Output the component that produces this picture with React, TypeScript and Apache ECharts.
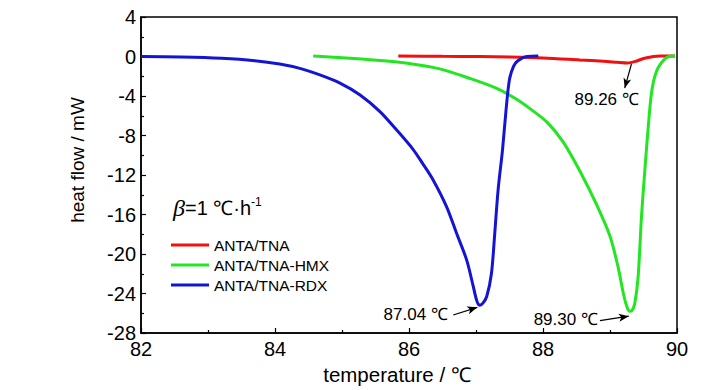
import React, { useEffect, useRef } from 'react';
import * as echarts from 'echarts';

// [temperature °C, heat flow mW]
const antaTna: [number, number][] = [
  [85.84, 0.05], [86.5, 0.02], [87.06, 0.0], [87.5, -0.05], [88.0, -0.15],
  [88.55, -0.35], [88.9, -0.48], [89.1, -0.58], [89.26, -0.66], [89.4, -0.45],
  [89.5, -0.2], [89.65, 0.0], [89.75, 0.05], [89.97, 0.05],
];

const antaTnaHmx: [number, number][] = [
  [84.57, 0.05], [85.0, -0.12], [85.57, -0.4], [86.0, -0.7], [86.46, -1.25],
  [86.9, -2.2], [87.3, -3.2], [87.6, -4.3], [87.81, -5.3], [88.06, -6.65],
  [88.3, -8.65], [88.55, -11.6], [88.8, -15.0], [89.0, -18.2], [89.12, -21.3],
  [89.2, -24.0], [89.25, -25.3], [89.29, -25.8], [89.33, -25.7], [89.37, -25.0],
  [89.42, -22.3], [89.47, -16.2], [89.52, -11.5], [89.57, -7.2], [89.61, -4.2],
  [89.65, -2.5], [89.7, -1.4], [89.75, -0.8], [89.82, -0.25], [89.88, 0.0],
  [89.97, 0.05],
];

const antaTnaRdx: [number, number][] = [
  [82.0, 0], [82.6, -0.05], [83.2, -0.18], [83.7, -0.42], [84.07, -0.76],
  [84.37, -1.2], [84.67, -1.87], [84.97, -2.7], [85.27, -3.9], [85.57, -5.6],
  [85.81, -7.4], [86.06, -9.4], [86.2, -10.8], [86.36, -12.5], [86.56, -15.2],
  [86.71, -17.9], [86.86, -20.6], [86.96, -23.3], [87.01, -24.7], [87.05, -25.2],
  [87.1, -25.0], [87.16, -24.3], [87.23, -22.0], [87.28, -17.9], [87.33, -13.5],
  [87.395, -9.5], [87.45, -5.3], [87.5, -2.3], [87.56, -1.0], [87.62, -0.45],
  [87.76, 0.0], [87.93, 0.05],
];

const seriesNames = ['ANTA/TNA', 'ANTA/TNA-HMX', 'ANTA/TNA-RDX'];
const seriesColors = ['#f01010', '#22e622', '#1414d4'];

// peak annotations (data coordinates): label position, arrow start, arrow end
const rdxPeak = { text: '87.04 ℃', at: [86.1, -26.1], from: [86.66, -26.18], to: [87.02, -25.4] };
const hmxPeak = { text: '89.30 ℃', at: [88.34, -26.68], from: [88.85, -26.75], to: [89.28, -26.3] };
const tnaPeak = { text: '89.26 ℃', at: [88.95, -4.4], from: [89.32, -0.76], to: [89.22, -3.2] };

const FONT = '"Liberation Sans", Arial, sans-serif';

function annot(p: { text: string; at: number[]; from: number[]; to: number[] }) {
  return {
    markLine: {
      silent: true,
      symbol: ['none', 'arrow'],
      symbolSize: [6, 10],
      label: { show: false },
      lineStyle: { color: '#000', width: 1.2, type: 'solid' },
      emphasis: { disabled: true },
      data: [[{ coord: p.from }, { coord: p.to }]],
    },
    markPoint: {
      silent: true,
      symbol: 'rect',
      symbolSize: 1,
      itemStyle: { color: 'rgba(0,0,0,0)' },
      label: {
        show: true,
        position: 'inside',
        formatter: p.text,
        color: '#000',
        fontSize: 17,
        fontFamily: FONT,
      },
      data: [{ coord: p.at }],
    },
  };
}

export default function App() {
  const ref = useRef<HTMLDivElement>(null);
  useEffect(() => {
    if (!ref.current) return;
    const chart = echarts.init(ref.current, undefined, { renderer: 'svg' });
    const datasets = [antaTna, antaTnaHmx, antaTnaRdx];
    const peaks = [tnaPeak, hmxPeak, rdxPeak];
    chart.setOption({
      animation: false,
      backgroundColor: '#fff',
      title: {
        left: 168,
        top: 191,
        text: '{b|β}{t|=1 ℃·h}{s|-1}',
        textStyle: {
          fontWeight: 'normal',
          rich: {
            b: { fontFamily: '"Liberation Serif", serif', fontStyle: 'italic', fontWeight: 'normal', fontSize: 24, color: '#000' },
            t: { fontFamily: FONT, fontWeight: 'normal', fontSize: 20, color: '#000' },
            s: { fontFamily: FONT, fontWeight: 'normal', fontSize: 12, color: '#000', verticalAlign: 'top' },
          },
        },
      },
      legend: {
        left: 166,
        top: 232,
        orient: 'vertical',
        icon: 'rect',
        itemWidth: 38,
        itemHeight: 3,
        itemGap: 4,
        data: seriesNames,
        textStyle: { color: '#000', fontSize: 15.5, fontFamily: FONT, lineHeight: 15 },
      },
      grid: {
        left: 141,
        right: 51,
        top: 17,
        bottom: 57,
        show: true,
        borderColor: '#000',
        borderWidth: 1.5,
      },
      xAxis: {
        type: 'value',
        min: 82,
        max: 90,
        interval: 2,
        name: 'temperature / ℃',
        nameLocation: 'middle',
        nameGap: 28,
        nameTextStyle: { color: '#000', fontSize: 20.5, fontFamily: FONT, padding: [0, 24, 0, 0] },
        axisLine: { show: true, onZero: false, lineStyle: { color: '#000', width: 1.5 } },
        axisTick: { show: true, inside: true, length: 5, lineStyle: { color: '#000', width: 1.2 } },
        minorTick: { show: true, splitNumber: 2, length: 3, lineStyle: { color: '#000', width: 1.2 } },
        splitLine: { show: false },
        axisLabel: { color: '#000', fontSize: 20, fontFamily: FONT, margin: 6 },
      },
      yAxis: {
        type: 'value',
        min: -28,
        max: 4,
        interval: 4,
        name: 'heat flow / mW',
        nameLocation: 'middle',
        nameGap: 54,
        nameRotate: 90,
        nameTextStyle: { color: '#000', fontSize: 19, fontFamily: FONT, padding: [0, 0, 0, 30] },
        axisLine: { show: true, onZero: false, lineStyle: { color: '#000', width: 1.5 } },
        axisTick: { show: true, inside: true, length: 5, lineStyle: { color: '#000', width: 1.2 } },
        minorTick: { show: true, splitNumber: 2, length: 3, lineStyle: { color: '#000', width: 1.2 } },
        splitLine: { show: false },
        axisLabel: { color: '#000', fontSize: 20, fontFamily: FONT, margin: 5 },
      },
      series: datasets.map((d, i) => ({
        name: seriesNames[i],
        type: 'line',
        data: d,
        showSymbol: false,
        symbol: 'none',
        smooth: 0.3,
        color: seriesColors[i],
        lineStyle: { width: 3, color: seriesColors[i] },
        ...annot(peaks[i]),
      })),
    });
    return () => chart.dispose();
  }, []);
  return <div ref={ref} style={{ width: 728, height: 390, position: 'absolute', left: 0, top: 0 }} />;
}
